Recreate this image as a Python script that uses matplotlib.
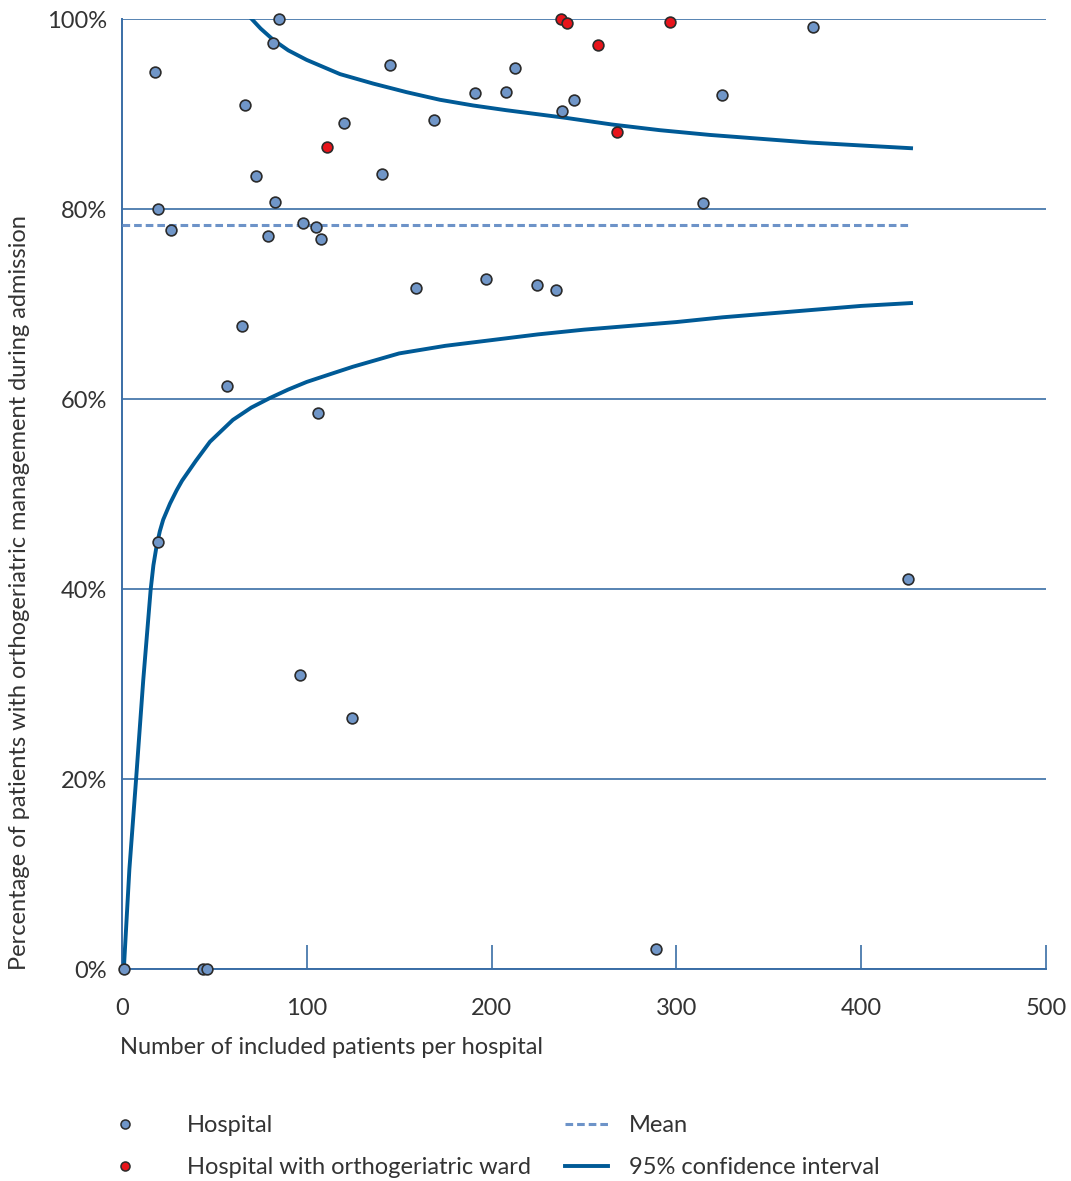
import matplotlib
matplotlib.use("Agg")
import matplotlib.pyplot as plt
from matplotlib.lines import Line2D
from matplotlib.ticker import FuncFormatter

plt.rcParams['font.family'] = ['Lato', 'DejaVu Sans']

# hospitals (number of patients, % with orthogeriatric management)
hosp_n = [17.9, 19.7, 26.7, 66.7, 72.7, 81.9, 85, 82.8, 78.8, 97.8, 105, 107.7,
          120, 140.8, 145, 168.8, 191, 207.8, 212.7, 237.9, 244.6, 314.4, 324.7,
          373.9, 158.9, 197, 224.6, 234.8, 64.9, 56.6, 105.9, 19.7, 425.4,
          96.3, 124.5, 289, 1, 43.6, 45.8]
hosp_pct = [94.4, 80.0, 77.8, 91.0, 83.5, 97.5, 100, 80.7, 77.2, 78.5, 78.1, 76.8,
            89.1, 83.7, 95.2, 89.4, 92.2, 92.3, 94.8, 90.3, 91.5, 80.6, 92.0,
            99.2, 71.7, 72.6, 72.0, 71.5, 67.7, 61.4, 58.5, 45.0, 41.05,
            30.9, 26.4, 2.1, 0, 0, 0]

# hospitals with orthogeriatric ward
ward_n = [110.8, 237.6, 240.8, 257.6, 296.5, 267.9]
ward_pct = [86.5, 100, 99.6, 97.3, 99.7, 88.1]

# mean
mean_n = [0, 427]
mean_pct = [78.3, 78.3]

# 95% confidence interval
upper_n = [70.2, 75, 81.9, 90, 99.9, 118, 136, 154, 172, 190, 208, 240, 265,
           291, 318, 345, 372, 399, 427]
upper_pct = [100, 99.0, 97.8, 96.7, 95.7, 94.2, 93.2, 92.3, 91.5, 90.9, 90.4, 89.6, 88.9,
             88.3, 87.8, 87.4, 87.0, 86.7, 86.4]
lower_n = [1, 4, 7.6, 11.5, 15.5, 17, 18.7, 20.5, 22.3, 26, 29.6, 32.5, 40, 47.6, 60,
           70, 80, 90, 100, 114, 125, 150, 175, 200, 225, 250, 275, 300, 325, 350,
           375, 400, 427]
lower_pct = [0, 10.5, 19.9, 30.4, 39.9, 42.5, 44.5, 46.1, 47.3, 49.0, 50.4, 51.4, 53.5,
             55.5, 57.8, 59.1, 60.1, 61.0, 61.8, 62.7, 63.4, 64.8, 65.6, 66.2, 66.8,
             67.3, 67.7, 68.1, 68.6, 69.0, 69.4, 69.8, 70.1]

blue = '#7096c8'
red = '#e8141b'
line_col = '#005a96'
grid_col = '#3a6ea6'
txt = '#333333'

fig = plt.figure(figsize=(10.71, 11.81), dpi=100)
ax = fig.add_axes([0.1139, 0.1795, 0.8627, 0.8044])

ax.plot(upper_n, upper_pct, color=line_col, lw=2.8, zorder=3, solid_joinstyle='round')
ax.plot(lower_n, lower_pct, color=line_col, lw=2.8, zorder=3, clip_on=False,
        solid_joinstyle='round')
ax.plot(mean_n, mean_pct, color='#6d93c8', lw=2.2, dashes=(2.5, 1.3), zorder=3)

ax.scatter(hosp_n, hosp_pct, s=60, c=blue, edgecolors='#2b2b2b', linewidths=1.2,
           zorder=4, clip_on=False)
ax.scatter(ward_n, ward_pct, s=60, c=red, edgecolors='#2b2b2b', linewidths=1.2,
           zorder=4, clip_on=False)

ax.set_xlim(0, 500)
ax.set_ylim(0, 100)
ax.set_xticks([0, 100, 200, 300, 400, 500])
ax.set_yticks([0, 20, 40, 60, 80, 100])
ax.yaxis.set_major_formatter(FuncFormatter(lambda v, p: '%d%%' % v))
ax.grid(axis='y', color=grid_col, lw=1.2, zorder=1)
ax.set_axisbelow(True)

for s in ['top', 'right']:
    ax.spines[s].set_visible(False)
for s in ['left', 'bottom']:
    ax.spines[s].set_color(grid_col)
    ax.spines[s].set_linewidth(1.4)

ax.tick_params(axis='x', direction='in', length=17, width=1.2, color=grid_col,
               pad=21, labelsize=17, labelcolor=txt)
ax.tick_params(axis='y', length=0, pad=11, labelsize=17, labelcolor=txt)

fig.text(20 / 1071, 1 - 970 / 1181,
         'Percentage of patients with orthogeriatric management during admission',
         rotation=90, ha='center', va='bottom', fontsize=17, color=txt)
fig.text(120 / 1071, 1 - 1047 / 1181, 'Number of included patients per hospital',
         ha='left', va='center', fontsize=17, color=txt)

h1 = [Line2D([], [], ls='none', marker='o', ms=6.5, mfc=blue, mec='#2b2b2b', mew=1.1),
      Line2D([], [], ls='none', marker='o', ms=6.5, mfc=red, mec='#2b2b2b', mew=1.1)]
leg1 = fig.legend(h1, ['Hospital', 'Hospital with orthogeriatric ward'],
                  loc='upper left', bbox_to_anchor=(101 / 1071, 1 - 1115 / 1181),
                  frameon=False, fontsize=17, handlelength=2.0, handletextpad=1.63,
                  labelspacing=0.9, borderpad=0, borderaxespad=0, labelcolor=txt)
h2 = [Line2D([], [], color='#6d93c8', lw=2.2, dashes=(2.5, 1.3)),
      Line2D([], [], color=line_col, lw=2.8)]
leg2 = fig.legend(h2, ['Mean', '95% confidence interval'],
                  loc='upper left', bbox_to_anchor=(565 / 1071, 1 - 1115 / 1181),
                  frameon=False, fontsize=17, handlelength=1.82, handletextpad=0.89,
                  labelspacing=0.9, borderpad=0, borderaxespad=0, labelcolor=txt)

fig.savefig('out.png', dpi=100)
